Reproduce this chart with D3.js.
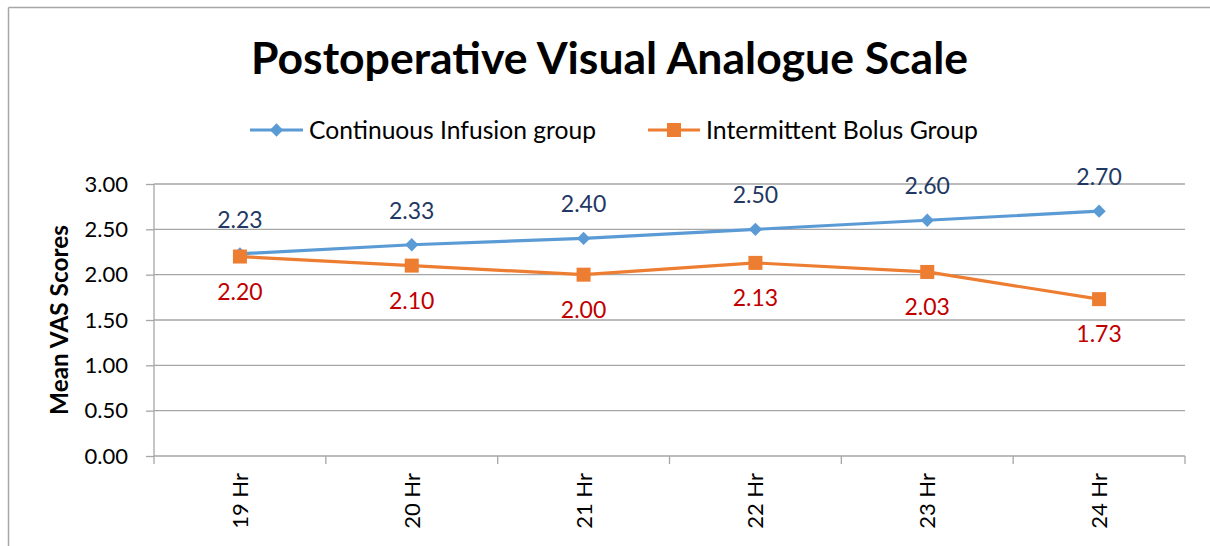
<!DOCTYPE html>
<html>
<head>
<meta charset="utf-8">
<script src="https://cdn.jsdelivr.net/npm/d3@7"></script>
<style>
  html, body { margin: 0; padding: 0; background: #fff; overflow: hidden; }
  svg { display: block; font-family: Lato, "Open Sans", sans-serif; }
</style>
</head>
<body>
<svg id="chart" width="1210" height="546"></svg>
<script>
// Time points and mean VAS scores per group
const hours = ["19 Hr", "20 Hr", "21 Hr", "22 Hr", "23 Hr", "24 Hr"];
const continuousInfusion = [2.23, 2.33, 2.40, 2.50, 2.60, 2.70];
const intermittentBolus = [2.20, 2.10, 2.00, 2.13, 2.03, 1.73];
const yTicks = [0, 0.5, 1, 1.5, 2, 2.5, 3];

const series = [
  { name: "Continuous Infusion group", values: continuousInfusion, color: "#5B9BD5", labelColor: "#1F3864", marker: "diamond", labelDy: -34 },
  { name: "Intermittent Bolus Group", values: intermittentBolus, color: "#ED7D31", labelColor: "#C00000", marker: "square", labelDy: 35 }
];

const svg = d3.select("#chart");
const W = 1210, H = 546;
const plot = { left: 154, right: 1185, top: 184, bottom: 456 };
const gridColor = "#A6A6A6";

// Outer chart frame: top and left edges (the rest runs past the view)
svg.append("line").attr("x1", 8.5).attr("x2", W).attr("y1", 7.5).attr("y2", 7.5)
  .attr("stroke", "#A6A6A6").attr("stroke-width", 1.5);
svg.append("line").attr("x1", 8.5).attr("x2", 8.5).attr("y1", 7.5).attr("y2", H)
  .attr("stroke", "#A6A6A6").attr("stroke-width", 1.5);

const x = d3.scaleBand().domain(hours).range([plot.left, plot.right]);
const y = d3.scaleLinear().domain([0, 3]).range([plot.bottom, plot.top]);

// Fit a text element to a given width by adjusting its font size
function fitWidth(sel, target) {
  const node = sel.node();
  const fs = parseFloat(sel.attr("font-size"));
  const w = node.getComputedTextLength();
  if (w > 0) sel.attr("font-size", (fs * target / w).toFixed(2));
}

// Title
const title = svg.append("text")
  .attr("x", 609.5).attr("y", 74)
  .attr("text-anchor", "middle")
  .attr("font-size", 42).attr("font-weight", "bold").attr("fill", "#000")
  .text("Postoperative Visual Analogue Scale");
fitWidth(title, 717);

// Horizontal gridlines + y ticks
const yAxis = d3.axisLeft(y).tickValues(yTicks).tickSize(8).tickPadding(18)
  .tickFormat(d3.format(".2f"));
const gy = svg.append("g").attr("transform", `translate(${plot.left},0)`).call(yAxis);
gy.select(".domain").remove();
gy.selectAll(".tick line").attr("stroke", gridColor).attr("stroke-width", 1.3);
gy.selectAll(".tick text").attr("font-size", 22).attr("fill", "#000")
  .attr("font-family", "Lato, sans-serif");

svg.append("g").selectAll("line").data(yTicks).join("line")
  .attr("x1", plot.left).attr("x2", plot.right)
  .attr("y1", d => y(d)).attr("y2", d => y(d))
  .attr("stroke", gridColor).attr("stroke-width", 1.3);

// Vertical axis line
svg.append("line")
  .attr("x1", plot.left).attr("x2", plot.left)
  .attr("y1", plot.top).attr("y2", plot.bottom + 8)
  .attr("stroke", gridColor).attr("stroke-width", 1.3);

// Category boundary ticks on the x axis
const boundaries = hours.map(h => x(h) + x.bandwidth());
svg.append("g").selectAll("line").data(boundaries).join("line")
  .attr("x1", d => d).attr("x2", d => d)
  .attr("y1", plot.bottom).attr("y2", plot.bottom + 8)
  .attr("stroke", gridColor).attr("stroke-width", 1.3);

// Rotated category labels
svg.append("g").selectAll("text").data(hours).join("text")
  .attr("transform", d => `translate(${x(d) + x.bandwidth() / 2 + 8},473) rotate(-90)`)
  .attr("text-anchor", "end")
  .attr("font-size", 22).attr("fill", "#000")
  .text(d => d);

// Y axis title
const yTitle = svg.append("text")
  .attr("transform", "translate(68,320) rotate(-90)")
  .attr("text-anchor", "middle")
  .attr("font-size", 21).attr("font-weight", "bold").attr("fill", "#000")
  .text("Mean VAS Scores");
fitWidth(yTitle, 190);

const cx = i => x(hours[i]) + x.bandwidth() / 2;

function drawMarker(g, type, color, px, py, size) {
  if (type === "diamond") {
    g.append("path")
      .attr("d", d3.symbol().type(d3.symbolDiamond2).size(size * size * 0.5)())
      .attr("transform", `translate(${px},${py})`)
      .attr("fill", color);
  } else {
    g.append("rect")
      .attr("x", px - size / 2).attr("y", py - size / 2)
      .attr("width", size).attr("height", size)
      .attr("fill", color);
  }
}

const line = d3.line().x((d, i) => cx(i)).y(d => y(d));

series.forEach(s => {
  const g = svg.append("g");
  g.append("path").datum(s.values)
    .attr("d", line)
    .attr("fill", "none").attr("stroke", s.color).attr("stroke-width", 3.2)
    .attr("stroke-linejoin", "round");
  s.values.forEach((v, i) => {
    drawMarker(g, s.marker, s.color, cx(i), y(v), s.marker === "diamond" ? 15 : 14);
  });
  g.selectAll("text.lbl").data(s.values).join("text")
    .attr("class", "lbl")
    .attr("x", (d, i) => cx(i)).attr("y", d => y(d) + s.labelDy)
    .attr("dy", "0.35em")
    .attr("text-anchor", "middle")
    .attr("font-size", 23).attr("fill", s.labelColor)
    .text(d => d3.format(".2f")(d));
});

// Legend
const legendItems = [
  { s: series[0], x0: 250, x1: 303, tx: 309, tw: 287 },
  { s: series[1], x0: 648, x1: 700, tx: 706, tw: 272 }
];
const ly = 130;
legendItems.forEach(it => {
  const g = svg.append("g");
  g.append("line").attr("x1", it.x0).attr("x2", it.x1).attr("y1", ly).attr("y2", ly)
    .attr("stroke", it.s.color).attr("stroke-width", 3.2);
  drawMarker(g, it.s.marker, it.s.color, (it.x0 + it.x1) / 2, ly, it.s.marker === "diamond" ? 15 : 14);
  const t = g.append("text").attr("x", it.tx).attr("y", ly).attr("dy", "0.35em")
    .attr("font-size", 23).attr("fill", "#000").text(it.s.name);
  fitWidth(t, it.tw);
});
</script>
</body>
</html>
